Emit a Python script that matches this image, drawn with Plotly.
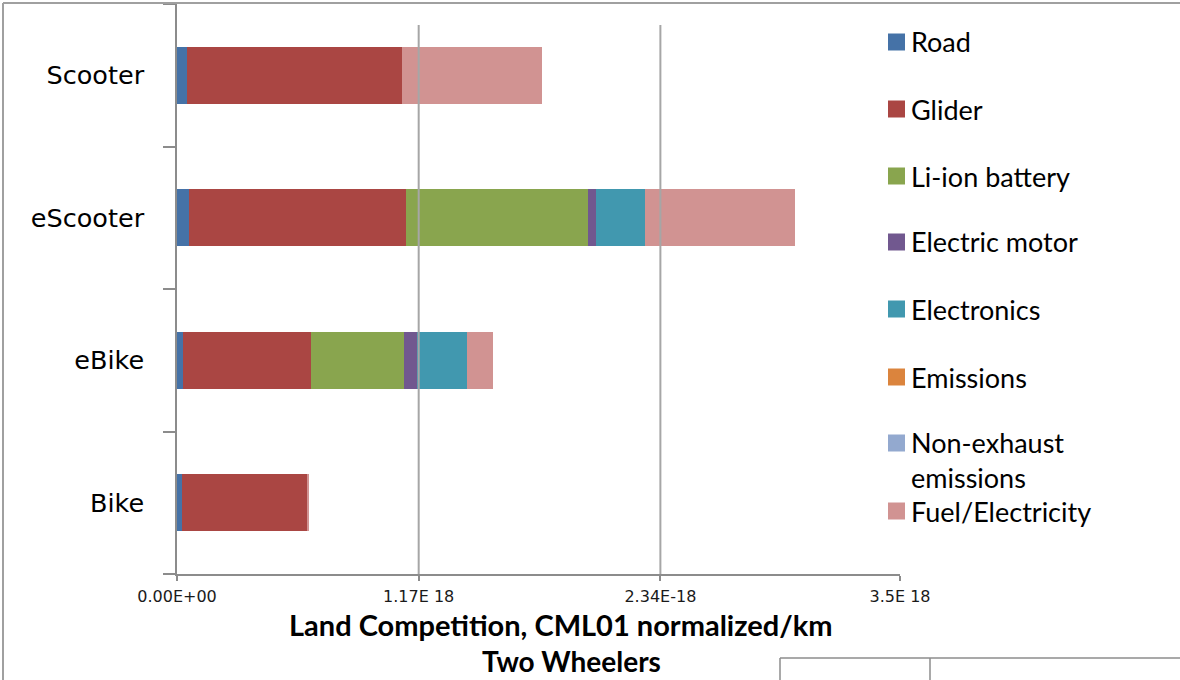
import plotly.graph_objects as go

# Land competition per km, by component, for four two-wheeler types
categories = ["Bike", "eBike", "eScooter", "Scooter"]
components = ["Road", "Glider", "Li-ion battery", "Electric motor",
              "Electronics", "Emissions", "Non-exhaust emissions", "Fuel/Electricity"]
legend_labels = ["Road", "Glider", "Li-ion battery", "Electric motor",
                 "Electronics", "Emissions", "Non-exhaust<br>emissions", "Fuel/Electricity"]

road = [0.023e-18, 0.028e-18, 0.060e-18, 0.048e-18]
glider = [0.608e-18, 0.623e-18, 1.047e-18, 1.039e-18]
li_ion_battery = [0.0, 0.450e-18, 0.883e-18, 0.0]
electric_motor = [0.0, 0.062e-18, 0.040e-18, 0.0]
electronics = [0.0, 0.242e-18, 0.237e-18, 0.0]
emissions = [0.0, 0.0, 0.0, 0.0]
non_exhaust = [0.0, 0.0, 0.0, 0.0]
fuel_electricity = [0.004e-18, 0.126e-18, 0.724e-18, 0.680e-18]

series = [road, glider, li_ion_battery, electric_motor,
          electronics, emissions, non_exhaust, fuel_electricity]
colors = ["#4572A7", "#AA4643", "#89A54E", "#71588F",
          "#4198AF", "#DB843D", "#93A9CF", "#D19392"]

tick_vals = [0.0, 1.17e-18, 2.34e-18, 3.5e-18]
tick_text = ["0.00E+00", "1.17E 18", "2.34E-18", "3.5E 18"]
grid_vals = [1.17e-18, 2.34e-18]

x_title = "Land Competition, CML01 normalized/km"
chart_title = "Two Wheelers"

W, H = 1180, 680
ML, MR, MT, MB = 177, 280, 4, 106
PW, PH = W - ML - MR, H - MT - MB


def px(x):
    return (x - ML) / PW


def py(y):
    return (H - MB - y) / PH


fig = go.Figure()
for name, vals, col in zip(components, series, colors):
    fig.add_trace(go.Bar(
        y=categories, x=vals, name=name, orientation="h",
        marker=dict(color=col, line=dict(width=0)),
        width=0.4, showlegend=False,
    ))

shapes = []
# vertical gridlines
for gv in grid_vals:
    shapes.append(dict(type="line", xref="x", yref="paper", x0=gv, x1=gv,
                       y0=0, y1=py(25), line=dict(color="#A6A6A6", width=2),
                       layer="above"))
# outer chart frame (left and top edges)
frame = "#A0A0A0"
shapes.append(dict(type="line", xref="paper", yref="paper", x0=px(3), x1=px(3),
                   y0=py(3), y1=py(680), line=dict(color=frame, width=2)))
shapes.append(dict(type="line", xref="paper", yref="paper", x0=px(3), x1=px(1180),
                   y0=py(3), y1=py(3), line=dict(color=frame, width=2)))
# small box in the lower right corner
box = "#8C8C8C"
shapes.append(dict(type="line", xref="paper", yref="paper", x0=px(780), x1=px(1180),
                   y0=py(658), y1=py(658), line=dict(color=box, width=1.5)))
shapes.append(dict(type="line", xref="paper", yref="paper", x0=px(780), x1=px(780),
                   y0=py(658), y1=py(680), line=dict(color=box, width=1.5)))
shapes.append(dict(type="line", xref="paper", yref="paper", x0=px(930), x1=px(930),
                   y0=py(658), y1=py(680), line=dict(color=box, width=1.5)))

# legend swatches and labels
legend_y = [42, 109, 176, 242, 309, 377, 460, 511]
annotations = []
for lab, col, ly in zip(legend_labels, colors, legend_y):
    sy = ly if "<br>" not in lab else ly - 17
    shapes.append(dict(type="rect", xref="paper", yref="paper",
                       x0=px(888), x1=px(905), y0=py(sy + 8.5), y1=py(sy - 8.5),
                       fillcolor=col, line=dict(width=0)))
    annotations.append(dict(xref="paper", yref="paper", x=px(909), y=py(ly),
                            text=lab, showarrow=False, xanchor="left", yanchor="middle",
                            align="left",
                            font=dict(family="Lato", size=27, color="#000000")))

annotations.append(dict(xref="paper", yref="paper", x=px(561), y=py(624),
                        text="<b>" + x_title + "</b>", showarrow=False,
                        xanchor="center", yanchor="middle", borderpad=0,
                        font=dict(family="Lato", size=29, color="#000000")))
annotations.append(dict(xref="paper", yref="paper", x=px(571), y=py(661),
                        text="<b>" + chart_title + "</b>", showarrow=False,
                        xanchor="center", yanchor="middle", borderpad=0,
                        font=dict(family="Lato", size=28, color="#000000")))

fig.update_layout(
    barmode="stack",
    width=W, height=H,
    margin=dict(l=ML, r=MR, t=MT, b=MB, pad=0),
    paper_bgcolor="white", plot_bgcolor="white",
    shapes=shapes, annotations=annotations,
    xaxis=dict(range=[0, 3.5e-18], tickvals=tick_vals, ticktext=tick_text,
               showgrid=False, zeroline=False,
               showline=True, linecolor="#8C8C8C", linewidth=1.5,
               ticks="outside", ticklen=5, tickcolor="#8C8C8C", tickwidth=1.5,
               ticklabelstandoff=2,
               tickfont=dict(family="DejaVu Sans", size=16, color="#1A1A1A")),
    yaxis=dict(type="category", categoryorder="array", categoryarray=categories,
               range=[-0.5, 3.5], showgrid=False, zeroline=False,
               showline=True, linecolor="#8C8C8C", linewidth=1.5,
               ticks="outside", ticklen=12, tickcolor="#8C8C8C", tickwidth=1.5,
               tickson="boundaries", ticklabelstandoff=26,
               tickfont=dict(family="DejaVu Sans", size=25.5, color="#000000")),
    bargap=0.6,
)

fig.write_html("out.html")
